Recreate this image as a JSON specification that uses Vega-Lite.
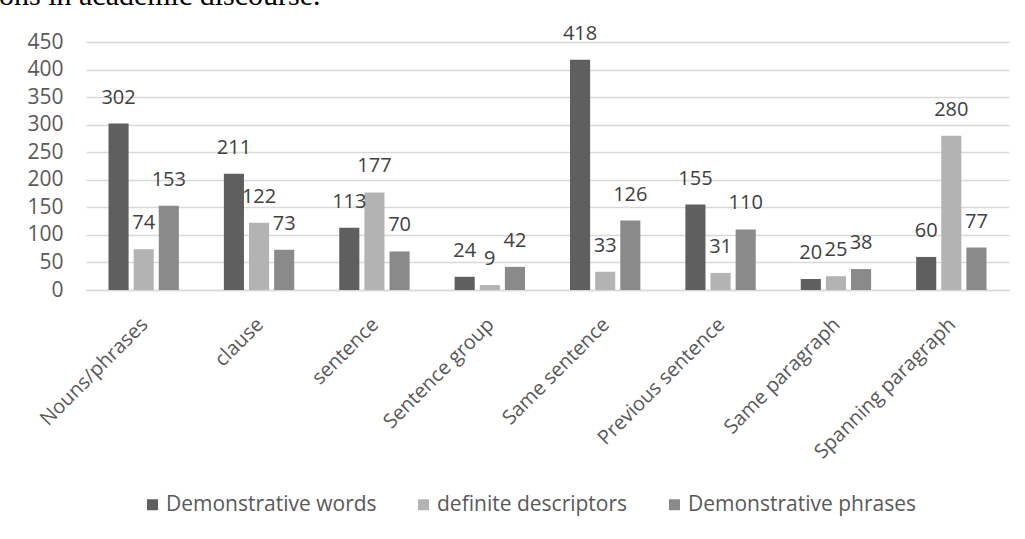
{
  "$schema": "https://vega.github.io/schema/vega-lite/v6.json",
  "autosize": "none",
  "width": 923,
  "height": 248,
  "padding": {"left": 86, "top": 42, "right": 16, "bottom": 249},
  "background": "white",
  "title": {
    "text": "ons in academic discourse.",
    "font": "Liberation Serif",
    "fontSize": 30,
    "fontWeight": "normal",
    "color": "#000000",
    "anchor": "start",
    "frame": "group",
    "baseline": "alphabetic",
    "offset": 0,
    "dy": 11,
    "dx": -87
  },
  "data": {
    "values": [
      {"category": "Nouns/phrases", "series": "Demonstrative words", "value": 302},
      {"category": "Nouns/phrases", "series": "definite descriptors", "value": 74},
      {"category": "Nouns/phrases", "series": "Demonstrative phrases", "value": 153},
      {"category": "clause", "series": "Demonstrative words", "value": 211},
      {"category": "clause", "series": "definite descriptors", "value": 122},
      {"category": "clause", "series": "Demonstrative phrases", "value": 73},
      {"category": "sentence", "series": "Demonstrative words", "value": 113},
      {"category": "sentence", "series": "definite descriptors", "value": 177},
      {"category": "sentence", "series": "Demonstrative phrases", "value": 70},
      {"category": "Sentence group", "series": "Demonstrative words", "value": 24},
      {"category": "Sentence group", "series": "definite descriptors", "value": 9},
      {"category": "Sentence group", "series": "Demonstrative phrases", "value": 42},
      {"category": "Same sentence", "series": "Demonstrative words", "value": 418},
      {"category": "Same sentence", "series": "definite descriptors", "value": 33},
      {"category": "Same sentence", "series": "Demonstrative phrases", "value": 126},
      {"category": "Previous sentence", "series": "Demonstrative words", "value": 155},
      {"category": "Previous sentence", "series": "definite descriptors", "value": 31},
      {"category": "Previous sentence", "series": "Demonstrative phrases", "value": 110},
      {"category": "Same paragraph", "series": "Demonstrative words", "value": 20},
      {"category": "Same paragraph", "series": "definite descriptors", "value": 25},
      {"category": "Same paragraph", "series": "Demonstrative phrases", "value": 38},
      {"category": "Spanning paragraph", "series": "Demonstrative words", "value": 60},
      {"category": "Spanning paragraph", "series": "definite descriptors", "value": 280},
      {"category": "Spanning paragraph", "series": "Demonstrative phrases", "value": 77}
    ]
  },
  "encoding": {
    "x": {
      "field": "category",
      "type": "nominal",
      "sort": null,
      "scale": {"paddingInner": 0.39, "paddingOuter": 0.195},
      "axis": {
        "title": null,
        "labelAngle": -45,
        "labelFont": "Open Sans",
        "labelFontSize": 20,
        "labelColor": "#595959",
        "ticks": false,
        "domainColor": "#d9d9d9",
        "domainWidth": 1.5,
        "labelPadding": 24,
        "labelOffset": -6,
        "labelLimit": 0
      }
    },
    "xOffset": {
      "field": "series",
      "type": "nominal",
      "sort": ["Demonstrative words", "definite descriptors", "Demonstrative phrases"],
      "scale": {"paddingInner": 0.2, "paddingOuter": 0}
    },
    "y": {
      "field": "value",
      "type": "quantitative",
      "scale": {"domain": [0, 450]},
      "axis": {
        "title": null,
        "values": [0, 50, 100, 150, 200, 250, 300, 350, 400, 450],
        "labelFont": "Open Sans",
        "labelFontSize": 21,
        "labelColor": "#595959",
        "ticks": false,
        "domain": false,
        "gridColor": "#d9d9d9",
        "gridWidth": 1.5,
        "labelPadding": 23
      }
    }
  },
  "layer": [
    {
      "mark": {"type": "bar"},
      "encoding": {
        "color": {
          "field": "series",
          "type": "nominal",
          "sort": ["Demonstrative words", "definite descriptors", "Demonstrative phrases"],
          "scale": {
            "domain": ["Demonstrative words", "definite descriptors", "Demonstrative phrases"],
            "range": ["#5f5f5f", "#b3b3b3", "#8a8a8a"]
          },
          "legend": {
            "title": null,
            "orient": "none",
            "legendX": 56,
            "legendY": 452,
            "direction": "horizontal",
            "padding": 0,
            "symbolType": "square",
            "symbolSize": 121,
            "symbolStrokeWidth": 0,
            "labelFont": "Open Sans",
            "labelFontSize": 21,
            "labelColor": "#595959",
            "labelLimit": 0,
            "labelOffset": 3,
            "columnPadding": 36
          }
        }
      }
    },
    {
      "mark": {"type": "text", "baseline": "middle", "dy": -26, "font": "Open Sans", "fontSize": 20, "color": "#404040"},
      "encoding": {
        "text": {"field": "value", "type": "quantitative"}
      }
    }
  ],
  "config": {
    "view": {"stroke": null}
  }
}
